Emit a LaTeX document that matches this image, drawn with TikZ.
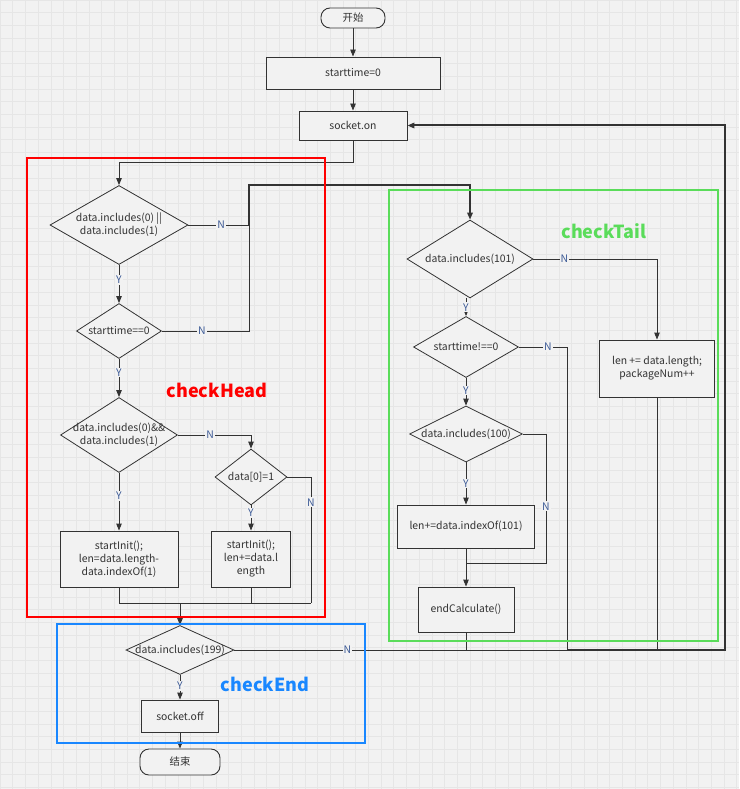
\documentclass[tikz,border=0pt]{standalone}
\usepackage{fontspec}
\setmainfont{Noto Sans CJK SC}
\usetikzlibrary{arrows.meta, shapes.geometric}
\definecolor{linegray}{RGB}{51, 51, 51}
\definecolor{canvas}{RGB}{242, 242, 242}
\definecolor{gridline}{RGB}{230, 230, 230}
\definecolor{headred}{RGB}{255, 0, 0}
\definecolor{tailgreen}{RGB}{90, 220, 90}
\definecolor{endblue}{RGB}{25, 135, 255}
\definecolor{ynblue}{RGB}{60, 90, 150}

\begin{document}
\begin{tikzpicture}[
    x=1pt, y=-1pt,
    box/.style={rectangle, draw=linegray, fill=canvas, line width=0.9pt,
                font=\fontsize{10.4}{13}\selectfont, text=linegray,
                align=center, inner sep=1pt},
    term/.style={box, rounded corners=9pt},
    dia/.style={diamond, draw=linegray, fill=canvas, line width=0.8pt,
                inner sep=0pt},
    txt/.style={font=\fontsize{10.4}{13}\selectfont, text=linegray,
                align=center, inner sep=0pt},
    yn/.style={font=\fontsize{10.4}{11}\selectfont, text=ynblue,
               fill=canvas, inner sep=1pt},
    flow/.style={draw=linegray, line width=0.9pt},
    arr/.style={flow, -{Triangle[length=7pt, width=5.5pt]}},
    back/.style={arr, line width=2pt},
    frame/.style={line width=2pt},
    tag/.style={font=\fontsize{18}{21}\selectfont\bfseries},
]

% -- Canvas --
\useasboundingbox (0, 0) rectangle (739, 789);
\fill[canvas] (0, 0) rectangle (739, 789);
\draw[gridline, line width=0.5pt, step=12.7pt]
    (0pt, -789pt) grid (739pt, 0pt);

% -- Main column --
\node[term, minimum width=64pt, minimum height=20pt] (start)
    at (353, 18) {开始};
\node[box, minimum width=174pt, minimum height=32pt] (st0)
    at (353, 73) {starttime=0};
\node[box, minimum width=108pt, minimum height=29pt] (on)
    at (353, 125.5) {socket.on};

% -- checkHead nodes --
\node[dia, minimum width=138pt, minimum height=79pt] (d1)
    at (119, 225) {};
\node[txt] (d1t) at (d1) {data.includes(0) ||\\data.includes(1)};
\node[dia, minimum width=85pt, minimum height=55pt] (d2)
    at (119, 331) {};
\node[txt] (d2t) at (d2) {starttime==0};
\node[dia, minimum width=117pt, minimum height=75pt] (d3)
    at (119, 435) {};
\node[txt] (d3t) at (d3) {data.includes(0)\&\&\\data.includes(1)};
\node[dia, minimum width=72pt, minimum height=56pt] (d4)
    at (251, 477) {};
\node[txt] (d4t) at (d4) {data[0]=1};
\node[box, minimum width=118pt, minimum height=56pt] (b5)
    at (119, 559) {startInit();\\len=data.length-\\data.indexOf(1)};
\node[box, minimum width=79pt, minimum height=56pt] (b6)
    at (251, 559) {startInit();\\len+=data.l\\ength};

% -- checkEnd nodes --
\node[dia, minimum width=108pt, minimum height=49pt] (d7)
    at (180, 650) {};
\node[txt] (d7t) at (d7) {data.includes(199)};
\node[box, minimum width=77pt, minimum height=32pt] (off)
    at (180, 716) {socket.off};
\node[term, minimum width=80pt, minimum height=26pt] (end)
    at (180, 762) {结束};

% -- checkTail nodes --
\node[dia, minimum width=126pt, minimum height=78pt] (d8)
    at (470, 259) {};
\node[txt] (d8t) at (d8) {data.includes(101)};
\node[dia, minimum width=105pt, minimum height=61pt] (d9)
    at (466, 347) {};
\node[txt] (d9t) at (d9) {starttime!==0};
\node[dia, minimum width=113pt, minimum height=56pt] (d10)
    at (466, 434) {};
\node[txt] (d10t) at (d10) {data.includes(100)};
\node[box, minimum width=137pt, minimum height=43pt] (b11)
    at (466, 526.5) {len+=data.indexOf(101)};
\node[box, minimum width=96pt, minimum height=45pt] (b12)
    at (466, 609.5) {endCalculate()};
\node[box, minimum width=115pt, minimum height=57pt] (b8)
    at (657, 368.5) {len += data.length;\\packageNum++};

% -- Junctions --
\coordinate (jT) at (353, 162);
\coordinate (jA) at (249, 225);
\coordinate (jB) at (249, 185);
\coordinate (jH) at (311, 603);
\coordinate (jR) at (567, 650);
\coordinate (jL) at (725, 650);
\coordinate (jK) at (546, 563);
\coordinate (jM) at (466, 563);

% -- Main flow --
\draw[arr] (start) -- (st0);
\draw[arr] (st0) -- (on);
\draw[arr] (on.south) -- (jT) -| (d1.north);

% -- checkHead flow --
\draw[arr] (d1) -- node[yn, pos=0.4] {Y} (d2);
\draw[flow] (d1.east) -- node[yn, pos=0.54] {N} (jA);
\draw[flow] (d2.east) -- node[yn, pos=0.46] {N} (d2.east -| jA) -- (jA);
\draw[arr, line width=1.6pt] (jA) -- (jB) -| (d8.north);
\draw[arr] (d2) -- node[yn, pos=0.36] {Y} (d3);
\draw[arr] (d3.east) -| node[yn, pos=0.22] {N} (d4.north);
\draw[arr] (d3) -- node[yn, pos=0.4] {Y} (b5);
\draw[arr] (d4) -- node[yn, pos=0.3] {Y} (b6);
\draw[flow] (d4.east) -| node[yn, pos=0.6] {N} (jH);
\draw[flow] (b5.south) |- (jH);
\draw[flow] (b6.south) -- (b6.south |- jH);
\draw[arr] (d7.north |- jH) -- (d7.north);

% -- checkEnd flow --
\draw[flow] (d7.east) -- node[yn, pos=0.34] {N} (jR);
\draw[back] (jR) -- (jL) |- (on.east);
\draw[arr] (d7) -- node[yn, pos=0.45] {Y} (off);
\draw[arr] (off) -- (end);

% -- checkTail flow --
\draw[arr] (d8.east) -| node[yn, pos=0.125] {N} (b8.north);
\draw[flow] (b8.south) -- (b8.south |- jR);
\draw[arr] (d9.north |- d8.south) -- node[yn] {Y} (d9.north);
\draw[flow] (d9.east) -| node[yn, pos=0.3] {N} (jR);
\draw[arr] (d9) -- node[yn, pos=0.45] {Y} (d10);
\draw[flow] (d10.east) -| node[yn, pos=0.78] {N} (jK) -- (jM);
\draw[arr] (d10) -- node[yn, pos=0.5] {Y} (b11);
\draw[flow] (b11) -- (jM);
\draw[arr] (jM) -- (b12);
\draw[flow] (b12.south) -- (b12.south |- jR);

% -- Frames --
\draw[frame, headred] (27, 158) rectangle (325, 617);
\draw[frame, tailgreen] (389, 190) rectangle (718, 641);
\draw[frame, endblue] (57, 624) rectangle (365, 743);
\node[tag, text=headred] (headtag) at (217, 390) {checkHead};
\node[tag, text=tailgreen] (tailtag) at (604, 231) {checkTail};
\node[tag, text=endblue] (endtag) at (265, 684) {checkEnd};

\end{tikzpicture}
\end{document}
